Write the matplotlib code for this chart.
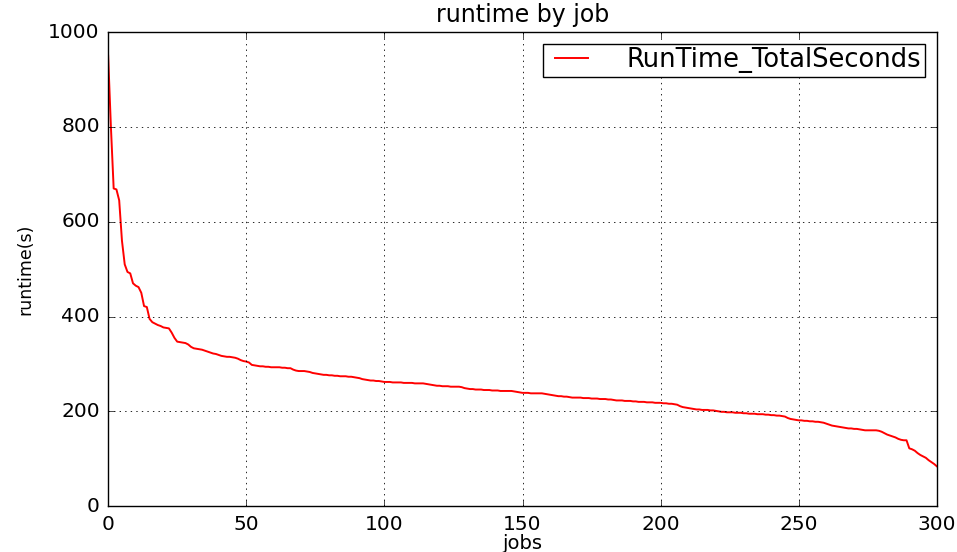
import matplotlib
matplotlib.use("Agg")
import matplotlib.pyplot as plt
import numpy as np

# Runtime (seconds) per job, sorted descending, jobs 0..300
runtime_seconds = [
    950, 800, 670, 668, 645, 560, 510, 494, 491, 470,
    465, 462, 450, 422, 420, 395, 388, 385, 382, 380,
    377, 376, 375, 366, 355, 347, 346, 345, 344, 341,
    336, 333, 332, 331, 330, 328, 326, 324, 322, 321,
    319, 317, 316, 315, 315, 314, 313, 311, 308, 306,
    305, 303, 298, 297, 296, 295, 295, 294, 294, 293,
    293, 293, 293, 292, 292, 291, 291, 288, 286, 285,
    285, 285, 284, 283, 281, 280, 279, 278, 277, 277,
    276, 276, 275, 275, 274, 274, 274, 273, 273, 272,
    271, 270, 268, 267, 266, 265, 265, 264, 264, 263,
    262, 262, 262, 261, 261, 261, 261, 260, 260, 260,
    260, 259, 259, 259, 259, 258, 257, 256, 255, 254,
    254, 253, 253, 253, 252, 252, 252, 252, 251, 249,
    248, 247, 247, 246, 246, 246, 245, 245, 245, 244,
    244, 244, 243, 243, 243, 243, 243, 242, 241, 240,
    239, 239, 239, 238, 238, 238, 238, 238, 237, 236,
    235, 234, 233, 232, 232, 231, 231, 230, 229, 229,
    229, 229, 228, 228, 228, 227, 227, 227, 226, 226,
    226, 225, 225, 224, 223, 223, 223, 222, 222, 222,
    221, 221, 220, 220, 220, 219, 219, 219, 218, 218,
    218, 217, 217, 216, 216, 215, 214, 211, 209, 208,
    207, 206, 205, 204, 204, 203, 203, 203, 202, 202,
    201, 200, 199, 199, 198, 198, 198, 197, 197, 197,
    196, 196, 195, 195, 195, 194, 194, 194, 193, 193,
    192, 192, 191, 191, 190, 189, 186, 184, 183, 182,
    181, 181, 180, 180, 179, 179, 178, 178, 177, 176,
    174, 172, 170, 169, 168, 167, 166, 165, 164, 164,
    163, 163, 162, 161, 160, 160, 160, 160, 160, 159,
    157, 154, 151, 149, 147, 145, 142, 140, 139, 139,
    122, 120, 117, 112, 108, 105, 102, 97, 93, 89,
    84,
]
jobs = list(range(len(runtime_seconds)))

x_ticks = [0, 50, 100, 150, 200, 250, 300]
y_ticks = [0, 200, 400, 600, 800, 1000]
series_label = "RunTime_TotalSeconds"

plt.style.use("classic")
plt.rcParams["font.family"] = ["DejaVu Sans"]

fig = plt.figure(figsize=(9.57, 5.52), dpi=100, facecolor="white")
ax = fig.add_axes([0.113, 0.083, 0.866, 0.859])

ax.plot(jobs, runtime_seconds, color="red", linewidth=1.4, label=series_label)

ax.set_xlim(0, 300)
ax.set_ylim(0, 1000)
ax.set_xticks(x_ticks)
ax.set_yticks(y_ticks)
ax.tick_params(labelsize=14.5, pad=6)
ax.grid(True, color="black", linestyle=":", linewidth=0.6)

ax.set_title("runtime by job", fontsize=17, pad=7)
ax.set_xlabel("jobs", fontsize=14, labelpad=0)
ax.set_ylabel("runtime(s)", fontsize=12.5, labelpad=10)

leg = ax.legend(loc="upper right", fontsize=18.5, fancybox=False,
                handlelength=1.9, handletextpad=1.2, borderpad=0.15,
                borderaxespad=0.45)
leg.get_frame().set_edgecolor("black")

fig.savefig("out.png", dpi=100, facecolor="white")
